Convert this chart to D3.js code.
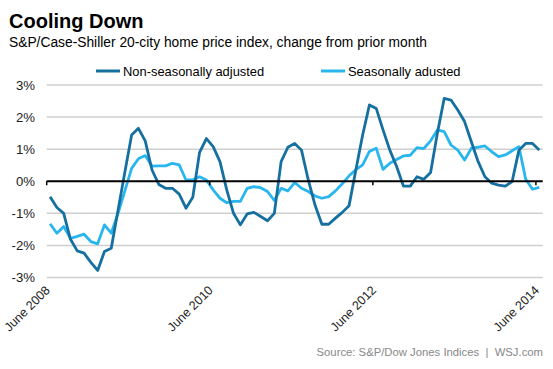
<!DOCTYPE html>
<html><head><meta charset="utf-8">
<script src="https://cdn.jsdelivr.net/npm/d3@7"></script>
<style>body{margin:0;background:#fff;}text{font-family:"Liberation Sans",Arial,sans-serif;}</style>
</head><body><svg id="c" width="553" height="369"></svg>
<script>
const title = "Cooling Down";
const subtitle = "S&P/Case-Shiller 20-city home price index, change from prior month";
const seriesNames = ["Non-seasonally adjusted", "Seasonally adusted"];
const nsa = [-0.48,-0.82,-1.0,-1.81,-2.17,-2.24,-2.53,-2.78,-2.19,-2.09,-0.9,0.28,1.44,1.65,1.26,0.35,-0.1,-0.22,-0.22,-0.4,-0.84,-0.5,0.9,1.33,1.08,0.61,-0.27,-1.0,-1.36,-1.02,-0.97,-1.1,-1.23,-1.0,0.61,1.06,1.18,0.97,0.04,-0.75,-1.34,-1.34,-1.15,-0.97,-0.76,0.35,1.44,2.38,2.27,1.6,0.97,0.46,-0.15,-0.15,0.14,0.06,0.27,1.5,2.58,2.53,2.22,1.86,1.23,0.61,0.14,-0.06,-0.12,-0.15,-0.01,0.97,1.18,1.18,0.97];
const sa = [-1.33,-1.62,-1.41,-1.78,-1.72,-1.65,-1.88,-1.95,-1.36,-1.62,-1.0,-0.3,0.4,0.7,0.8,0.47,0.48,0.48,0.56,0.51,0.04,0.04,0.14,0.04,-0.27,-0.53,-0.67,-0.63,-0.63,-0.22,-0.17,-0.2,-0.32,-0.6,-0.22,-0.3,-0.04,-0.22,-0.32,-0.46,-0.53,-0.48,-0.3,-0.08,0.17,0.36,0.51,0.93,1.03,0.37,0.56,0.68,0.79,0.81,1.05,1.02,1.26,1.6,1.55,1.13,0.97,0.66,1.03,1.06,1.1,0.92,0.77,0.82,0.95,1.08,0.06,-0.25,-0.19];
const yTicks = [-3,-2,-1,0,1,2,3];
const xTickLabels = ["June 2008","June 2010","June 2012","June 2014"];
const xTickIndex = [0,24,48,72];
const source = "Source: S&P/Dow Jones Indices  |  WSJ.com";
const colors = ["#1570a0","#29b6ef"];

const svg = d3.select("#c");
const months = d3.range(nsa.length);
const x = d3.scaleBand().domain(months).range([46.7, 542.7]).paddingInner(0).paddingOuter(0);
const y = d3.scaleLinear().domain([-3,3]).range([277.5, 85]);
const cx = i => x(i) + x.bandwidth()/2;

svg.append("text").attr("x",9).attr("y",28).attr("font-size",20).attr("font-weight","bold").attr("fill","#000").text(title);
svg.append("text").attr("x",9).attr("y",46.5).attr("font-size",13.8).attr("fill","#000").text(subtitle);

// legend
const legX = [96, 321];
seriesNames.forEach((n,k)=>{
  svg.append("line").attr("x1",legX[k]).attr("x2",legX[k]+24).attr("y1",71).attr("y2",71).attr("stroke",colors[k]).attr("stroke-width",3);
  svg.append("text").attr("x",legX[k]+27).attr("y",75.5).attr("font-size",12.9).attr("fill","#000").text(n);
});

// grid
svg.append("g").selectAll("line").data(yTicks.filter(d=>d!==0)).join("line")
  .attr("x1",46.7).attr("x2",542.7).attr("y1",d=>y(d)).attr("y2",d=>y(d))
  .attr("stroke","#cfcfcf").attr("stroke-width",1.5);
// y labels
svg.append("g").selectAll("text").data(yTicks).join("text")
  .attr("x",35).attr("y",d=>y(d)+4.5).attr("text-anchor","end").attr("font-size",13.2).attr("fill","#222")
  .text(d=>d+"%");

// lines
const line = d3.line().x((d,i)=>cx(i)).y(d=>y(d));
[[sa,1],[nsa,0]].forEach(([s,idx])=>{
  svg.append("path").datum(s).attr("d",line).attr("fill","none").attr("stroke",colors[idx]).attr("stroke-width",2.8).attr("stroke-linejoin","round");
});

// zero line and ticks
svg.append("line").attr("x1",46.7).attr("x2",542.7).attr("y1",y(0)).attr("y2",y(0)).attr("stroke","#000").attr("stroke-width",1.8);
svg.append("g").selectAll("line").data(xTickIndex).join("line")
  .attr("x1",i=>x(i)).attr("x2",i=>x(i)).attr("y1",y(0)).attr("y2",y(0)+4).attr("stroke","#000").attr("stroke-width",1.5);

// x labels
svg.append("g").selectAll("text").data(xTickIndex).join("text")
  .attr("transform",i=>`translate(${x(i)+4},${291}) rotate(-45)`)
  .attr("text-anchor","end").attr("font-size",12.5).attr("fill","#222")
  .text((d,k)=>xTickLabels[k]);

svg.append("text").attr("x",543).attr("y",356).attr("text-anchor","end").attr("font-size",11.3).attr("fill","#888").attr("xml:space","preserve").text(source);
</script></body></html>
